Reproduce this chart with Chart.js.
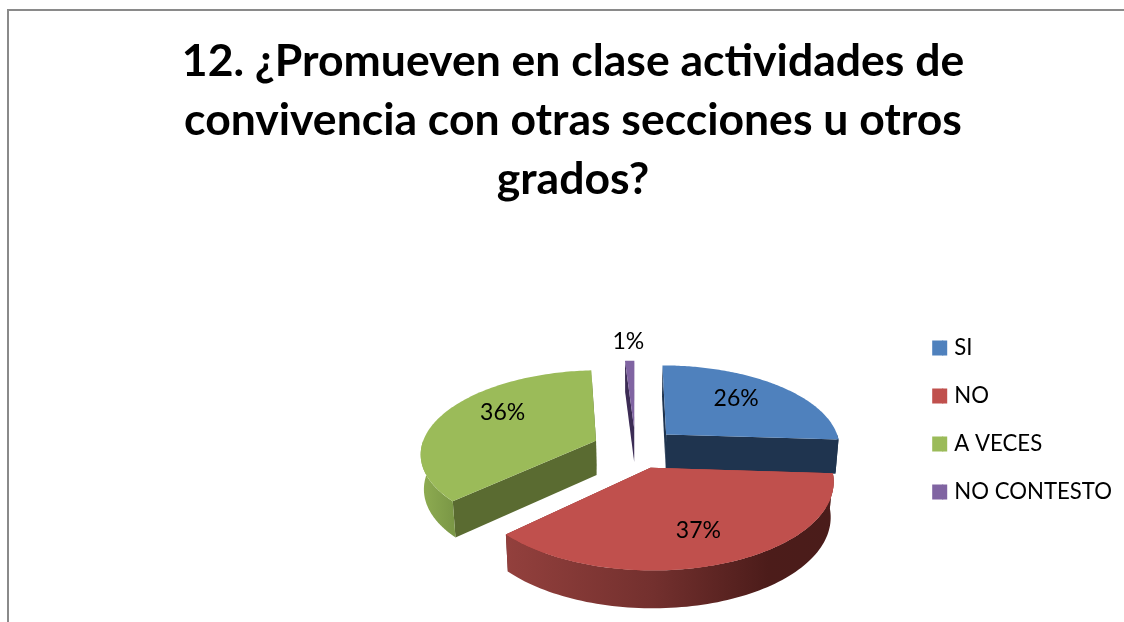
<!DOCTYPE html>
<html><head><meta charset="utf-8">
<style>html,body{margin:0;padding:0;background:#fff;width:1124px;height:622px;overflow:hidden}
#f{position:absolute;left:7px;top:9px;width:1117px;height:613px;border-top:2px solid #8a8a8a;border-left:2px solid #8a8a8a;box-sizing:border-box}
#w{position:absolute;left:0;top:0;width:1124px;height:622px}</style>
<script src="https://cdn.jsdelivr.net/npm/chart.js@4"></script>
</head><body><div id="f"></div><div id="w"><canvas id="c" width="1124" height="622"></canvas></div>
<script>
const titleLines = ["12. ¿Promueven en clase actividades de","convivencia con otras secciones u otros","grados?"];
const categories = ["SI","NO","A VECES","NO CONTESTO"];
const values = [26,37,36,1];
const topColors = ["#4F81BD","#C0504D","#9BBB59","#8064A2"];
const cutColors = ["#1F344F","#5E2523","#5A6B31","#3C2C55"];
const labelFactor = [0.66,0.685,0.685,1.33];
const labelTurn = [-4,0,10.7,0];
const CX=635.5, CY=448, TILT=0.47, FOCAL=1250, DROP=34.5;
function proj(u,v){const s=1/(1-v/FOCAL);return {x:CX+u*s,y:CY+v*TILT*s};}
function low(p,v){return {x:CX+(p.x-CX)*0.985,y:p.y+DROP+v*0.016};}
const pie3d={id:'pie3d',
 beforeDatasetDraw(chart){
  const ctx=chart.ctx, arcs=chart.getDatasetMeta(0).data, order=[0,3,2,1];
  const geo=arcs.map(a=>{const p=a.getProps(['startAngle','endAngle','outerRadius'],true);
    const m=(p.startAngle+p.endAngle)/2, d=a.options.offset/4;
    return {a0:p.startAngle,a1:p.endAngle,R:p.outerRadius,ox:Math.cos(m)*d,oy:Math.sin(m)*d,m};});
  const pt=(g,a,r)=>{const u=g.ox+Math.cos(a)*r,v=g.oy+Math.sin(a)*r;return {p:proj(u,v),v};};
  const poly=(pts,fill)=>{ctx.beginPath();pts.forEach((q,i)=>i?ctx.lineTo(q.x,q.y):ctx.moveTo(q.x,q.y));ctx.closePath();ctx.fillStyle=fill;ctx.fill();};
  order.forEach(i=>{const g=geo[i];
    const c=pt(g,0,0);const cb=low(c.p,c.v);
    [g.a0,g.a1].forEach(a=>{const e=pt(g,a,g.R);poly([c.p,e.p,low(e.p,e.v),cb],cutColors[i]);});
    const from=Math.max(g.a0,0), to=Math.min(g.a1,Math.PI);
    // the visible outer wall: the part of the rim that faces the viewer
    if(to>from){
      const upper=[],lower=[];
      for(let k=0;k<=90;k++){const a=from+(to-from)*k/90,e=pt(g,a,g.R);upper.push(e.p);lower.push(low(e.p,e.v));}
      const xs=upper.map(q=>q.x);const gr=ctx.createLinearGradient(Math.min(...xs),0,Math.max(...xs),0);
      if(i===1){gr.addColorStop(0,'#93403D');gr.addColorStop(.45,'#73302E');gr.addColorStop(.8,'#4C1C1A');gr.addColorStop(1,'#4A1C1A');}
      else if(i===2){gr.addColorStop(0,'#8FAD52');gr.addColorStop(1,'#7B9846');}
      else{gr.addColorStop(0,cutColors[i]);gr.addColorStop(1,cutColors[i]);}
      poly(upper.concat(lower.reverse()),gr);
    }
    const top=[c.p];
    for(let k=0;k<=120;k++){top.push(pt(g,g.a0+(g.a1-g.a0)*k/120,g.R).p);}
    poly(top,topColors[i]);
  });
  const g=geo[1],top=[pt(g,0,0).p];
  for(let k=0;k<=120;k++){top.push(pt(g,g.a0+(g.a1-g.a0)*k/120,g.R).p);}
  poly(top,topColors[1]);
  ctx.font='23px Lato';ctx.fillStyle='#000';ctx.textAlign='center';ctx.textBaseline='middle';
  const tot=values.reduce((s,x)=>s+x,0);
  geo.forEach((g,i)=>{const a=g.m+labelTurn[i]*Math.PI/180,r=g.R*labelFactor[i];
    const q=proj(g.ox+Math.cos(a)*r,g.oy+Math.sin(a)*r);
    ctx.fillText(Math.round(values[i]/tot*100)+'%',q.x,q.y);});
  return false;
 },
 afterDraw(chart){
  const ctx=chart.ctx,h=chart.legend.legendHitBoxes;
  h.forEach((b,i)=>{ctx.fillStyle=topColors[i];ctx.fillRect(b.left+10,b.top+(b.height-15)/2,5,15);});
 }
};
new Chart(document.getElementById('c'),{type:'pie',
 data:{labels:categories,datasets:[{data:values,backgroundColor:topColors,borderWidth:0,offset:172,radius:175}]},
 plugins:[pie3d],
 options:{responsive:false,animation:false,
  layout:{padding:{left:24,right:2,top:32,bottom:9}},
  plugins:{tooltip:{enabled:false},
   title:{display:true,text:titleLines,color:'#000',font:{family:'Lato',size:44.5,weight:'bold',lineHeight:1.326},padding:{top:0,bottom:18}},
   legend:{position:'right',fullSize:false,labels:{color:'#000',font:{family:'Lato',size:22.2},boxWidth:11,boxHeight:15,padding:25.8}}
  }}});
</script></body></html>
